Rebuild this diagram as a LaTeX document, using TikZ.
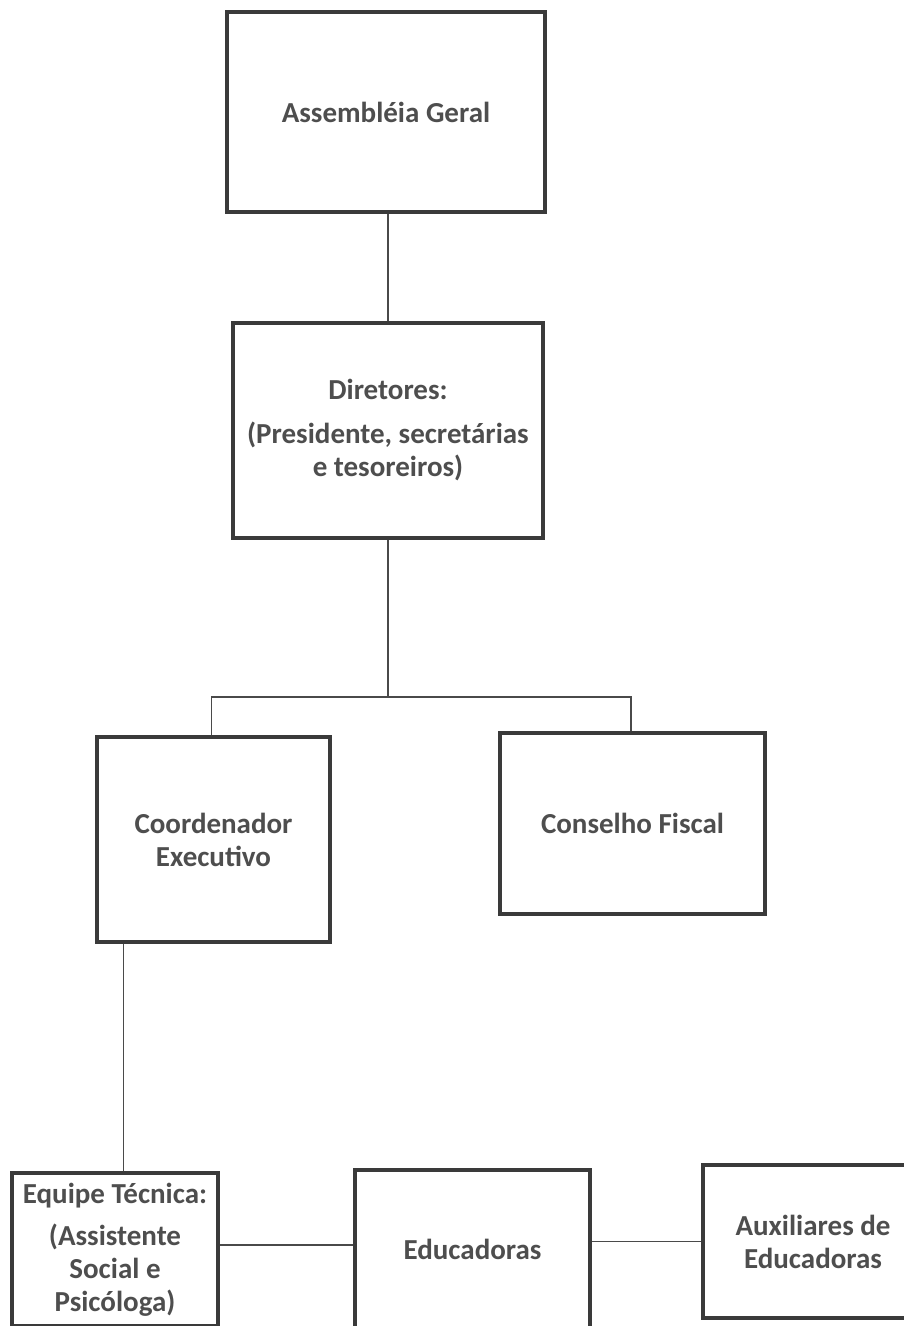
\documentclass[tikz,border=0pt]{standalone}
\usepackage{fontspec}
\setmainfont{Carlito}
\definecolor{boxline}{HTML}{3A3A3A}
\definecolor{txt}{HTML}{4E4E4E}
\definecolor{conn}{HTML}{4A4A4A}
\begin{document}
\begin{tikzpicture}[x=1pt,y=-1pt,
  orgbox/.style={draw=boxline, line width=3.5pt, rectangle, align=center,
    text=txt, font=\bfseries\fontsize{29}{33}\selectfont, inner sep=1pt},
  link/.style={draw=conn, line width=1.8pt}]
\clip (0,0) rectangle (904,1326);
\fill[white] (0,0) rectangle (904,1326);
% boxes
\node[orgbox, minimum width=318, minimum height=200] (A) at (386,112) {Assembléia Geral};
\node[orgbox, minimum width=310, minimum height=215] (B) at (388,430.5)
  {Diretores:\\[11pt](Presidente, secretárias\\e tesoreiros)};
\node[orgbox, minimum width=233, minimum height=205] (C) at (213.5,839.5)
  {Coordenador\\Executivo};
\node[orgbox, minimum width=265, minimum height=181] (D) at (632.5,823.5)
  {Conselho Fiscal};
\node[orgbox, minimum width=206, minimum height=153] (E) at (115,1249.5)
  {Equipe Técnica:\\[9pt](Assistente\\Social e\\Psicóloga)};
\node[orgbox, minimum width=235, minimum height=158] (F) at (472.5,1249)
  {Educadoras};
\node[orgbox, minimum width=220, minimum height=153] (G) at (813,1241.5)
  {Auxiliares de\\Educadoras};
% connectors
\coordinate (split) at (388,697);
\draw[link] (A.south -| B.north) -- (B.north);
\draw[link] (B.south) -- (split);
\draw[link] (split) -| ([xshift=-2]C.north);
\draw[link] (split) -| ([xshift=-1.5]D.north);
\draw[link] ([xshift=-90]C.south) -- ([xshift=-90]C.south |- E.north);
\draw[link] ([yshift=4.5]E.east) -- ([yshift=4.5]E.east -| F.west);
\draw[link] (G.west -| F.east) -- (G.west);
\end{tikzpicture}
\end{document}
